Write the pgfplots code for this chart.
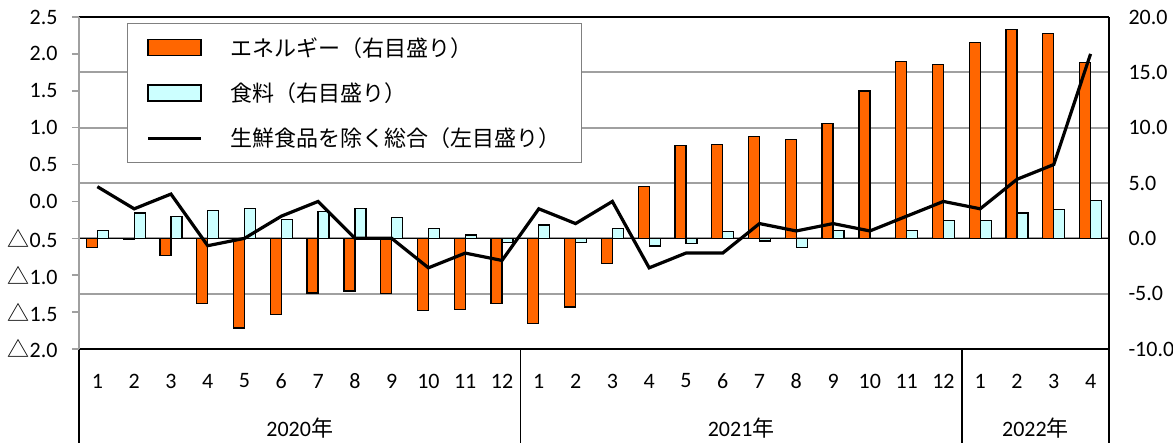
\documentclass[border=0pt]{standalone}
\usepackage{pgfplots}
\pgfplotsset{compat=1.18}
\usepackage{pgfplotstable}
\usepackage{fontspec}
\setmainfont{Carlito}
\newfontfamily\jp{Noto Sans CJK JP}
\definecolor{eorange}{HTML}{FF6600}
\definecolor{fcyan}{HTML}{CCFFFF}
\definecolor{gridgray}{HTML}{A0A0A0}
\pgfplotsset{
 barleg/.style={legend image code/.code={\draw[##1] (0pt,-8pt) rectangle (53pt,8pt);}},
 lineleg/.style={legend image code/.code={\draw[##1] (0pt,0pt) -- (53pt,0pt);}},
}
\pgfplotstableread{
x E F L
0 -0.8 0.7 0.2
1 -0.1 2.3 -0.1
2 -1.55 2.0 0.1
3 -5.9 2.5 -0.6
4 -8.1 2.7 -0.5
5 -6.9 1.7 -0.2
6 -4.95 2.4 0.0
7 -4.75 2.7 -0.5
8 -5.0 1.9 -0.5
9 -6.5 0.9 -0.9
10 -6.45 0.3 -0.7
11 -5.9 -0.4 -0.8
12 -7.7 1.2 -0.1
13 -6.2 -0.35 -0.3
14 -2.25 0.9 0.0
15 4.7 -0.7 -0.9
16 8.4 -0.45 -0.7
17 8.45 0.6 -0.7
18 9.2 -0.25 -0.3
19 8.9 -0.8 -0.4
20 10.4 0.7 -0.3
21 13.3 0.0 -0.4
22 16.0 0.7 -0.2
23 15.7 1.6 0.0
24 17.7 1.6 -0.1
25 18.85 2.3 0.3
26 18.5 2.6 0.5
27 15.9 3.4 2.0
}\datatable
\begin{document}
\begin{tikzpicture}[font=\fontsize{22}{26}\selectfont]
\path[use as bounding box] (-79pt,-94pt) rectangle (1094pt,349pt);
\begin{axis}[
 scale only axis, width=1030pt, height=332pt,
 xmin=-0.5, xmax=27.5, ymin=-10, ymax=20,
 axis x line=box, axis y line*=right,
 axis line style={black, line width=1.5pt},
 ytick={-10,-5,0,5,10,15,20},
 yticklabels={-10.0,-5.0,0.0,5.0,10.0,15.0,20.0},
 ymajorgrids, grid style={gridgray, line width=2pt},
 major tick length=0pt,
 yticklabel style={xshift=16pt},
 xtick={0,1,2,3,4,5,6,7,8,9,10,11,12,13,14,15,16,17,18,19,20,21,22,23,24,25,26,27},
 xticklabels={1,2,3,4,5,6,7,8,9,10,11,12,1,2,3,4,5,6,7,8,9,10,11,12,1,2,3,4},
 xticklabel style={anchor=center, yshift=-32pt},
 ybar, bar width=11pt,
 clip=false,
]
\addplot[fill=eorange, draw=black, line width=1.3pt, bar shift=-5.5pt] table[x=x,y=E]{\datatable};
\addplot[fill=fcyan, draw=black, line width=1.3pt, bar shift=5.5pt] table[x=x,y=F]{\datatable};
\draw[black, line width=1.5pt] (axis cs:-0.5,0) -- (axis cs:27.5,0);
\draw[black, line width=1.5pt] (axis cs:-0.5,-10) -- ++(0pt,-94pt);
\draw[black, line width=1.5pt] (axis cs:11.5,-10) -- ++(0pt,-94pt);
\draw[black, line width=1.5pt] (axis cs:23.5,-10) -- ++(0pt,-94pt);
\draw[black, line width=1.5pt] (axis cs:27.5,-10) -- ++(0pt,-94pt);
\node at (axis cs:5.5,-10) [yshift=-79pt] {2020{\jp 年}};
\node at (axis cs:17.5,-10) [yshift=-79pt] {2021{\jp 年}};
\node at (axis cs:25.5,-10) [yshift=-79pt] {2022{\jp 年}};
\end{axis}
\begin{axis}[
 scale only axis, width=1030pt, height=332pt,
 xmin=-0.5, xmax=27.5, ymin=-2, ymax=2.5,
 axis x line=none, axis y line*=left,
 axis line style={gridgray, line width=2pt},
 ytick={-2,-1.5,-1,-0.5,0,0.5,1,1.5,2,2.5},
 yticklabels={{\jp △}2.0,{\jp △}1.5,{\jp △}1.0,{\jp △}0.5,0.0,0.5,1.0,1.5,2.0,2.5},
 ytick style={gridgray, line width=1.5pt}, major tick length=7pt, tick align=outside,
 yticklabel style={xshift=-11pt},
 legend style={at={(axis description cs:0.0466,0.982)}, anchor=north west,
   draw=gray, line width=1pt, fill=white, inner xsep=19pt, inner ysep=12pt,
   row sep=21pt, font=\jp\fontsize{22}{26}\selectfont,
   /tikz/every odd column/.append style={column sep=26pt}},
 legend cell align=left,
 clip=false,
]
\addlegendimage{barleg, fill=eorange, draw=black, line width=1.3pt}
\addlegendentry{エネルギー（右目盛り）}
\addlegendimage{barleg, fill=fcyan, draw=black, line width=1.3pt}
\addlegendentry{食料（右目盛り）}
\addplot[lineleg, black, line width=3.2pt] table[x=x,y=L]{\datatable};
\addlegendentry{生鮮食品を除く総合（左目盛り）}
\end{axis}
\end{tikzpicture}
\end{document}
